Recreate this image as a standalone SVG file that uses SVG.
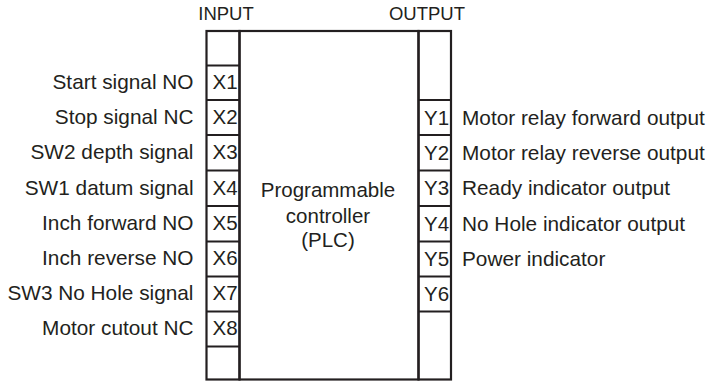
<svg xmlns="http://www.w3.org/2000/svg" width="712" height="381" viewBox="0 0 712 381">
  <style>
    .ln { fill: none; stroke: #231f20; stroke-width: 2.2; }
    .t { font-family: "Liberation Sans", Arial, Helvetica, sans-serif; fill: #231f20; }
    .lbl { font-size: 20.8px; }
    .lblL { text-anchor: end; }
    .term { font-size: 20.5px; }
    .title { font-size: 18.5px; text-anchor: middle; }
    .plc { font-size: 20.5px; text-anchor: middle; }
  </style>
  <rect width="712" height="381" fill="#ffffff"/>

  <g id="titles">
    <text class="t title" x="226" y="20">INPUT</text>
    <text class="t title" x="427" y="20">OUTPUT</text>
  </g>

  <g id="plc">
    <rect class="ln" x="239.5" y="31" width="179" height="348.5"/>
    <text class="t plc" x="328" y="197">Programmable</text>
    <text class="t plc" x="328" y="223">controller</text>
    <text class="t plc" x="328" y="247">(PLC)</text>
  </g>

  <g id="input-column">
    <rect class="ln" x="206.5" y="31" width="33" height="348.5"/>
    <path class="ln" d="M206.5 65.5H239.5M206.5 100H239.5M206.5 135H239.5M206.5 170.5H239.5M206.5 206H239.5M206.5 241.5H239.5M206.5 276.5H239.5M206.5 311.5H239.5M206.5 346.5H239.5"/>
  </g>

  <g id="output-column">
    <rect class="ln" x="418.5" y="31" width="32.5" height="348.5"/>
    <path class="ln" d="M418.5 100H451M418.5 135H451M418.5 170.5H451M418.5 206H451M418.5 241.5H451M418.5 276.5H451M418.5 311.5H451"/>
  </g>

  <g id="X1"><text class="t term" x="212.5" y="89">X1</text><text class="t lbl lblL" x="193.5" y="89">Start signal NO</text></g>
  <g id="X2"><text class="t term" x="212.5" y="124">X2</text><text class="t lbl lblL" x="193.5" y="124">Stop signal NC</text></g>
  <g id="X3"><text class="t term" x="212.5" y="159">X3</text><text class="t lbl lblL" x="193.5" y="159">SW2 depth signal</text></g>
  <g id="X4"><text class="t term" x="212.5" y="194.5">X4</text><text class="t lbl lblL" x="193.5" y="194.5">SW1 datum signal</text></g>
  <g id="X5"><text class="t term" x="212.5" y="230">X5</text><text class="t lbl lblL" x="193.5" y="230">Inch forward NO</text></g>
  <g id="X6"><text class="t term" x="212.5" y="265">X6</text><text class="t lbl lblL" x="193.5" y="265">Inch reverse NO</text></g>
  <g id="X7"><text class="t term" x="212.5" y="300">X7</text><text class="t lbl lblL" x="193.5" y="300">SW3 No Hole signal</text></g>
  <g id="X8"><text class="t term" x="212.5" y="335">X8</text><text class="t lbl lblL" x="193.5" y="335">Motor cutout NC</text></g>

  <g id="Y1"><text class="t term" x="424" y="124.5">Y1</text><text class="t lbl" x="462" y="124.5">Motor relay forward output</text></g>
  <g id="Y2"><text class="t term" x="424" y="159.5">Y2</text><text class="t lbl" x="462" y="159.5">Motor relay reverse output</text></g>
  <g id="Y3"><text class="t term" x="424" y="195">Y3</text><text class="t lbl" x="462" y="195">Ready indicator output</text></g>
  <g id="Y4"><text class="t term" x="424" y="230.5">Y4</text><text class="t lbl" x="462" y="230.5">No Hole indicator output</text></g>
  <g id="Y5"><text class="t term" x="424" y="265.5">Y5</text><text class="t lbl" x="462" y="265.5">Power indicator</text></g>
  <g id="Y6"><text class="t term" x="424" y="300.5">Y6</text></g>
</svg>
